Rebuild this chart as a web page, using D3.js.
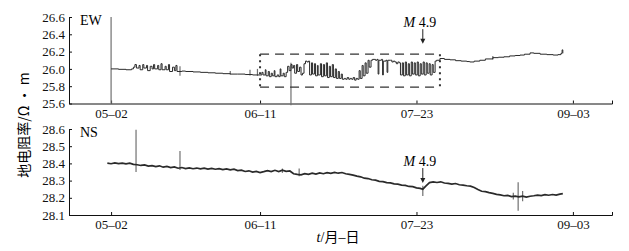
<!DOCTYPE html>
<html>
<head>
<meta charset="utf-8">
<script src="https://cdn.jsdelivr.net/npm/d3@7"></script>
<style>
  body { margin: 0; background: #fff; }
  svg { display: block; }
  .axis text { font-family: 'Liberation Serif', 'Times New Roman', serif; font-size: 13px; fill: #111; }
  .axis path, .axis line { stroke: #111; }
</style>
</head>
<body>
<div id="chart"></div>
<script>
// days counted from 05-02
const tickLabels = ['05-02', '06-11', '07-23', '09-03']
const quakeDay = 83.7
const quakeLabel = '4.9'

const ewTicks = [25.6, 25.8, 26.0, 26.2, 26.4, 26.6]
const nsTicks = [28.1, 28.2, 28.3, 28.4, 28.5, 28.6]

// EW apparent resistivity, [day, value]
const ewSeries = [
  [0, 26.0], [2, 25.995], [4, 25.99], [5.5, 26.0],
  [6, 26.02], [6.4, 26.05], [6.8, 26.01], [7.5, 26.04], [7.8, 25.99], [8.5, 26.05], [8.8, 26.01], [9.5, 26.04],
  [9.8, 25.98], [10.5, 26.03], [11, 26.0], [11.4, 26.05], [11.7, 26.0], [12.5, 26.04], [12.8, 25.99], [13.4, 26.06],
  [13.7, 25.99], [14.5, 26.03], [14.8, 25.99], [15.4, 26.05], [15.7, 25.97], [16.5, 26.02], [17, 25.98], [17.4, 26.04],
  [17.7, 25.97], [19, 25.975], [20, 25.97], [22, 25.965], [24, 25.96], [26, 25.955], [28, 25.95], [30, 25.945],
  [32, 25.94], [34, 25.94], [36, 25.935], [38, 25.93], [40, 25.93],
  [40.5, 25.96], [40.8, 25.93], [41.4, 25.99], [41.6, 25.92], [42.2, 25.97], [42.5, 25.91], [43, 25.95], [43.3, 25.92],
  [43.8, 25.98], [44, 25.91], [44.6, 25.93], [45, 25.91], [45.4, 26.0], [45.6, 25.92], [46.2, 25.95], [46.5, 25.91],
  [47, 25.96], [47.4, 26.03], [47.8, 25.98], [48.3, 26.05], [48.6, 26.01], [49, 26.04], [49.3, 25.95], [49.8, 26.05],
  [50.1, 25.97], [50.6, 26.02], [51, 25.93], [51.4, 25.95], [51.8, 26.06], [52.2, 26.09], [52.6, 26.08], [53, 26.09],
  [53.3, 25.93], [53.8, 26.07], [54.1, 25.94], [54.6, 26.06], [54.9, 25.92], [55.4, 26.04], [55.6, 25.93], [56.2, 26.06],
  [56.5, 25.91], [57, 26.05], [57.3, 25.92], [57.8, 26.07], [58.1, 25.9], [58.6, 26.03], [58.9, 25.91], [59.4, 26.05],
  [59.7, 25.9], [60.2, 26.0], [60.5, 25.89], [61, 25.97], [61.3, 25.89], [61.8, 25.94], [62.1, 25.88], [62.6, 25.89],
  [63, 25.88], [63.4, 25.9], [63.8, 25.88], [64.2, 25.89], [64.6, 25.88], [65, 25.9], [65.4, 25.87], [65.8, 25.89],
  [66.2, 25.88], [66.6, 25.98], [66.9, 25.89], [67.4, 26.04], [67.7, 25.92], [68.2, 26.07], [68.5, 25.95], [69, 26.1],
  [69.3, 26.02], [69.8, 26.1], [70.2, 26.11], [70.6, 26.11], [71, 26.1], [71.4, 26.11], [71.7, 25.94], [71.9, 26.1],
  [72.6, 26.11], [72.9, 25.93], [73.1, 26.09], [73.8, 26.1], [74.1, 25.96], [74.3, 26.1], [75, 26.1], [75.4, 26.08],
  [75.8, 26.09], [76.2, 26.08], [76.6, 26.06], [77, 26.08], [77.4, 26.07], [77.7, 25.93], [78.2, 26.07], [78.5, 25.92],
  [79, 26.08], [79.3, 25.93], [79.8, 26.06], [80.1, 25.92], [80.6, 26.08], [80.9, 25.94], [81.4, 26.07], [81.7, 25.93],
  [82.2, 26.08], [82.5, 25.92], [83, 26.06], [83.3, 25.94], [83.8, 26.08], [84.1, 25.93], [84.6, 26.07], [84.9, 25.95],
  [85.4, 26.06], [85.7, 25.93], [86.2, 26.05], [86.5, 25.96], [87, 26.09], [87.4, 26.1], [88.3, 26.12],
  [89.5, 26.11], [91, 26.105], [92.5, 26.095], [94, 26.09], [95.5, 26.085], [96.3, 26.08], [97.5, 26.09], [99, 26.1],
  [100.5, 26.115], [102.5, 26.13], [104, 26.135], [105.5, 26.14], [107, 26.15], [108.5, 26.155], [109.8, 26.16],
  [111, 26.17], [112.5, 26.185], [113.5, 26.18], [115.2, 26.17], [117, 26.165], [118.7, 26.16], [120, 26.165],
  [120.8, 26.18], [121.1, 26.22], [121.3, 26.18]
]

// vertical jumps on EW, [day, low, high]
const ewSpikes = [
  [0, 25.6, 26.6], [18.5, 25.92, 26.03], [32, 25.935, 25.975], [37.3, 25.925, 25.99], [39.3, 25.92, 26.0],
  [48.3, 25.58, 26.07], [102.5, 26.11, 26.15]
]

// dashed frame round the EW disturbance: [startDay, endDay], [low, high]
const boxDays = [40, 88.3]
const boxValues = [25.79, 26.17]

// NS apparent resistivity, [day, value]
const nsSeries = [
  [-1, 28.402], [0, 28.398], [1, 28.403], [2, 28.399], [3, 28.402], [4, 28.397], [5, 28.401], [6, 28.394],
  [7, 28.392], [8, 28.388], [9, 28.391], [10, 28.384], [11, 28.387], [12, 28.381], [13, 28.386], [14, 28.378],
  [15, 28.383], [16, 28.376], [17, 28.380], [18, 28.372], [19, 28.376], [20, 28.370], [21, 28.374], [22, 28.369],
  [23, 28.373], [24, 28.368], [25, 28.372], [26, 28.367], [27, 28.371], [28, 28.366], [29, 28.370], [30, 28.364],
  [31, 28.368], [32, 28.362], [33, 28.366], [34, 28.358], [35, 28.361], [36, 28.353], [37, 28.357], [38, 28.349],
  [39, 28.353], [40, 28.347], [41, 28.352], [42, 28.358], [43, 28.352], [44, 28.360], [45, 28.353], [46, 28.361],
  [47, 28.354], [48, 28.356], [49, 28.340], [50, 28.336], [51, 28.333], [52, 28.340], [53, 28.336], [54, 28.343],
  [55, 28.338], [56, 28.345], [57, 28.340], [58, 28.346], [59, 28.342], [60, 28.348], [61, 28.343], [62, 28.347],
  [63, 28.340], [64, 28.336], [65, 28.332], [66, 28.326], [67, 28.322], [68, 28.314], [69, 28.312], [70, 28.305],
  [71, 28.303], [72, 28.296], [73, 28.294], [74, 28.288], [75, 28.287], [76, 28.281], [77, 28.279], [78, 28.274],
  [79, 28.272], [80, 28.266], [81, 28.265], [82, 28.258], [83, 28.255], [83.7, 28.250], [84.5, 28.268], [85.5, 28.288],
  [86.5, 28.292], [87.5, 28.289], [88.5, 28.293], [89.5, 28.286], [90.5, 28.284], [91.5, 28.280], [92.5, 28.283],
  [93.5, 28.276], [94.5, 28.274], [95.5, 28.270], [96.5, 28.268], [97.5, 28.260], [98.5, 28.248], [99.5, 28.238],
  [100.5, 28.236], [101.5, 28.230], [102.5, 28.226], [103.5, 28.220], [104.5, 28.217], [105.5, 28.212], [106.5, 28.214],
  [107.5, 28.207], [108.5, 28.210], [109.5, 28.205], [110.5, 28.210], [111.5, 28.204], [112.5, 28.209], [113.5, 28.212],
  [114.5, 28.216], [115.5, 28.213], [116.5, 28.218], [117.5, 28.215], [118.5, 28.219], [119.5, 28.216], [120.5, 28.221],
  [121.3, 28.224]
]

const nsSpikes = [
  [6.7, 28.35, 28.595], [18.5, 28.362, 28.472], [46, 28.345, 28.37], [50.5, 28.325, 28.37],
  [83.7, 28.21, 28.27], [108, 28.19, 28.23], [109.3, 28.125, 28.29], [110.5, 28.18, 28.24]
]

const W = 629, H = 251
const parse = d3.timeParse('%m-%d')
const base = parse('05-02')
const toDate = d => new Date(base.getTime() + d * 864e5)

const svg = d3.select('#chart').append('svg')
    .attr('width', W)
    .attr('height', H)

const x = d3.scaleTime()
    .domain([toDate(-11.3), toDate(134.5)])
    .range([69, 612])

const panels = [
  { name: 'EW', series: ewSeries, spikes: ewSpikes, ticks: ewTicks, range: [103.5, 17], width: 1, curve: d3.curveStepAfter, arrow: [26.46, 26.29] },
  { name: 'NS', series: nsSeries, spikes: nsSpikes, ticks: nsTicks, range: [215, 129], width: 1.7, curve: d3.curveLinear, arrow: [28.373, 28.286] }
]

panels.forEach(p => {
  const y = d3.scaleLinear()
      .domain([p.ticks[0], p.ticks[p.ticks.length - 1]])
      .range(p.range)

  svg.append('g')
      .attr('class', 'axis')
      .attr('transform', 'translate(0,' + p.range[0] + ')')
      .call(d3.axisBottom(x)
        .tickValues(tickLabels.map(parse))
        .tickSize(-3)
        .tickSizeOuter(-3)
        .tickPadding(5)
        .tickFormat(d => d3.timeFormat('%m')(d) + '–' + d3.timeFormat('%d')(d)))

  svg.append('g')
      .attr('class', 'axis')
      .attr('transform', 'translate(69,0)')
      .call(d3.axisLeft(y)
        .tickValues(p.ticks)
        .tickSize(-3)
        .tickSizeOuter(0)
        .tickPadding(4)
        .tickFormat(d3.format('.1f')))

  svg.append('g')
    .selectAll('line')
      .data(p.spikes)
    .enter().append('line')
      .attr('x1', d => x(toDate(d[0])))
      .attr('x2', d => x(toDate(d[0])))
      .attr('y1', d => y(d[1]))
      .attr('y2', d => y(d[2]))
      .attr('stroke', '#707070')
      .attr('stroke-width', 1.2)

  svg.append('path')
      .datum(p.series)
      .attr('fill', 'none')
      .attr('stroke', '#2a2a2a')
      .attr('stroke-width', p.width)
      .attr('d', d3.line().curve(p.curve).x(d => x(toDate(d[0]))).y(d => y(d[1])))

  svg.append('text')
      .attr('x', 80)
      .attr('y', p.range[1] + 8)
      .style('font-family', "'Liberation Serif', serif")
      .style('font-size', '14px')
      .text(p.name)

  // earthquake mark
  const ax = x(toDate(quakeDay))
  const label = svg.append('text')
      .attr('x', ax - 3)
      .attr('y', y(p.arrow[0]) - 2)
      .attr('text-anchor', 'middle')
      .style('font-family', "'Liberation Serif', serif")
      .style('font-size', '14px')
  label.append('tspan').style('font-style', 'italic').text('M')
  label.append('tspan').text(' ' + quakeLabel)

  svg.append('line')
      .attr('x1', ax).attr('x2', ax)
      .attr('y1', y(p.arrow[0])).attr('y2', y(p.arrow[1]) - 4)
      .attr('stroke', '#222')
  svg.append('path')
      .attr('d', 'M' + (ax - 2.5) + ',' + (y(p.arrow[1]) - 5) + 'L' + (ax + 2.5) + ',' + (y(p.arrow[1]) - 5) + 'L' + ax + ',' + y(p.arrow[1]) + 'Z')
      .attr('fill', '#222')

  if (p.name === 'EW') {
    const bx0 = x(toDate(boxDays[0])), bx1 = x(toDate(boxDays[1]))
    const by0 = y(boxValues[1]), by1 = y(boxValues[0])
    const frame = svg.append('g').attr('fill', 'none').attr('stroke', '#333')
    frame.selectAll('.h')
        .data([by0, by1])
      .enter().append('line')
        .attr('x1', bx0).attr('x2', bx1)
        .attr('y1', d => d).attr('y2', d => d)
        .attr('stroke-width', 1.3)
        .attr('stroke-dasharray', '9,6')
    frame.selectAll('.v')
        .data([bx0, bx1])
      .enter().append('line')
        .attr('x1', d => d).attr('x2', d => d)
        .attr('y1', by0).attr('y2', by1)
        .attr('stroke-width', 2)
        .attr('stroke-dasharray', '2,4')
  }
})

svg.append('text')
    .attr('transform', 'translate(29,125)rotate(-90)')
    .attr('text-anchor', 'middle')
    .style('font-family', "'Noto Sans CJK SC', 'Liberation Serif', serif")
    .style('font-size', '14px')
    .text('地电阻率/Ω · m')

const xt = svg.append('text')
    .attr('x', 338)
    .attr('y', 242)
    .attr('text-anchor', 'middle')
    .style('font-family', "'Liberation Serif', 'Noto Sans CJK SC', serif")
    .style('font-size', '14px')
xt.append('tspan').style('font-style', 'italic').text('t')
xt.append('tspan').text('/月–日')
</script>
</body>
</html>
